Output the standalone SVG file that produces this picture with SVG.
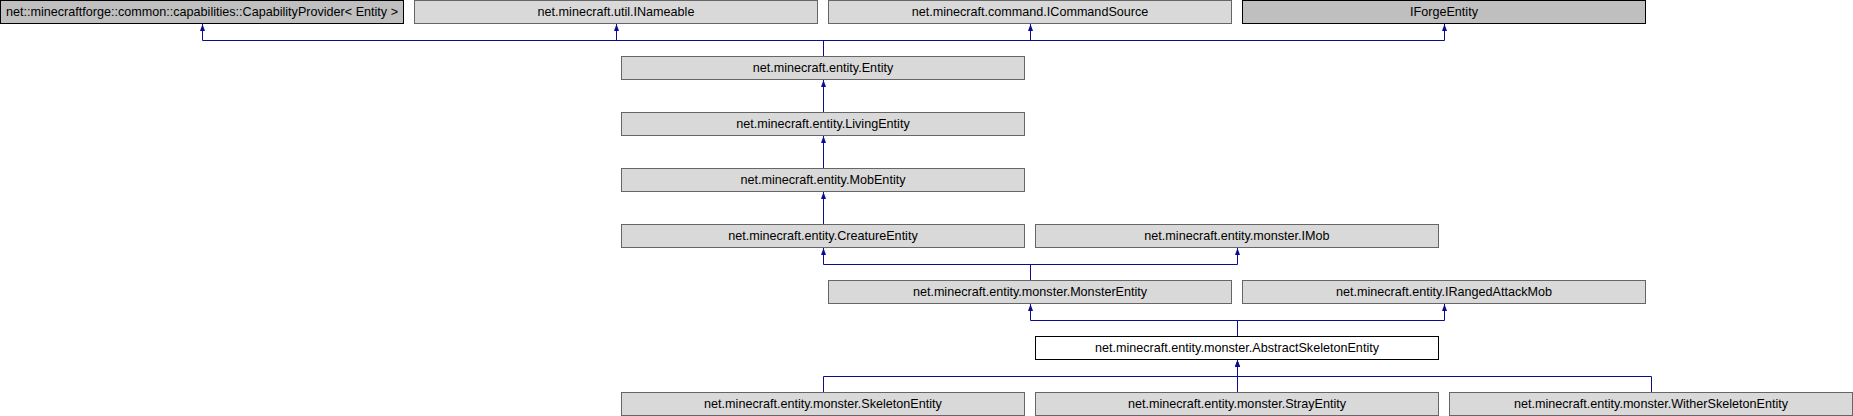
<svg xmlns="http://www.w3.org/2000/svg" width="1853" height="416" viewBox="0 0 1853 416">
<style>
.n rect{fill:#d9d9d9;stroke:#666666;stroke-width:1}
.n.d rect{fill:#bfbfbf;stroke:#000000}
.n.f rect{fill:#ffffff;stroke:#000000}
.n text{font-family:"Liberation Sans",Arial,sans-serif;font-size:12.6px;fill:#000000;text-anchor:middle}
#edges path{fill:none;stroke:#0c0c90;stroke-width:1;marker-end:url(#ah)}
</style>
<defs>
<marker id="ah" markerUnits="userSpaceOnUse" markerWidth="10" markerHeight="10" refX="7" refY="3" orient="auto">
<path d="M0,0.5 L7,3 L0,5.5 Z" fill="#0c0c90"/>
</marker>
</defs>
<rect x="0" y="0" width="1853" height="416" fill="#ffffff"/>
<g id="edges">
<path d="M823.5,56.5 V40.5 H202.5 V24"/>
<path d="M823.5,56.5 V40.5 H616.5 V24"/>
<path d="M823.5,56.5 V40.5 H1030.5 V24"/>
<path d="M823.5,56.5 V40.5 H1444.5 V24"/>
<path d="M823.5,112.5 V80"/>
<path d="M823.5,168.5 V136"/>
<path d="M823.5,224.5 V192"/>
<path d="M1030.5,280.5 V264.5 H823.5 V248"/>
<path d="M1030.5,280.5 V264.5 H1237.5 V248"/>
<path d="M1237.5,336.5 V320.5 H1030.5 V304"/>
<path d="M1237.5,336.5 V320.5 H1444.5 V304"/>
<path d="M823.5,392.5 V376.5 H1237.5 V360"/>
<path d="M1237.5,392.5 V360"/>
<path d="M1651.5,392.5 V376.5 H1237.5 V360"/>
</g>
<g id="capprovider" class="n d"><rect x="0.5" y="0.5" width="403" height="23"/><text x="202" y="15.5">net::minecraftforge::common::capabilities::CapabilityProvider&lt; Entity &gt;</text></g>
<g id="inameable" class="n"><rect x="414.5" y="0.5" width="403" height="23"/><text x="616" y="15.5">net.minecraft.util.INameable</text></g>
<g id="icommandsource" class="n"><rect x="828.5" y="0.5" width="403" height="23"/><text x="1030" y="15.5">net.minecraft.command.ICommandSource</text></g>
<g id="iforgeentity" class="n d"><rect x="1242.5" y="0.5" width="403" height="23"/><text x="1444" y="15.5">IForgeEntity</text></g>
<g id="entity" class="n"><rect x="621.5" y="56.5" width="403" height="23"/><text x="823" y="71.5">net.minecraft.entity.Entity</text></g>
<g id="livingentity" class="n"><rect x="621.5" y="112.5" width="403" height="23"/><text x="823" y="127.5">net.minecraft.entity.LivingEntity</text></g>
<g id="mobentity" class="n"><rect x="621.5" y="168.5" width="403" height="23"/><text x="823" y="183.5">net.minecraft.entity.MobEntity</text></g>
<g id="creatureentity" class="n"><rect x="621.5" y="224.5" width="403" height="23"/><text x="823" y="239.5">net.minecraft.entity.CreatureEntity</text></g>
<g id="imob" class="n"><rect x="1035.5" y="224.5" width="403" height="23"/><text x="1237" y="239.5">net.minecraft.entity.monster.IMob</text></g>
<g id="monsterentity" class="n"><rect x="828.5" y="280.5" width="403" height="23"/><text x="1030" y="295.5">net.minecraft.entity.monster.MonsterEntity</text></g>
<g id="irangedattackmob" class="n"><rect x="1242.5" y="280.5" width="403" height="23"/><text x="1444" y="295.5">net.minecraft.entity.IRangedAttackMob</text></g>
<g id="abstractskeletonentity" class="n f"><rect x="1035.5" y="336.5" width="403" height="23"/><text x="1237" y="351.5">net.minecraft.entity.monster.AbstractSkeletonEntity</text></g>
<g id="skeletonentity" class="n"><rect x="621.5" y="392.5" width="403" height="23"/><text x="823" y="407.5">net.minecraft.entity.monster.SkeletonEntity</text></g>
<g id="strayentity" class="n"><rect x="1035.5" y="392.5" width="403" height="23"/><text x="1237" y="407.5">net.minecraft.entity.monster.StrayEntity</text></g>
<g id="witherskeletonentity" class="n"><rect x="1449.5" y="392.5" width="403" height="23"/><text x="1651" y="407.5">net.minecraft.entity.monster.WitherSkeletonEntity</text></g>
</svg>
